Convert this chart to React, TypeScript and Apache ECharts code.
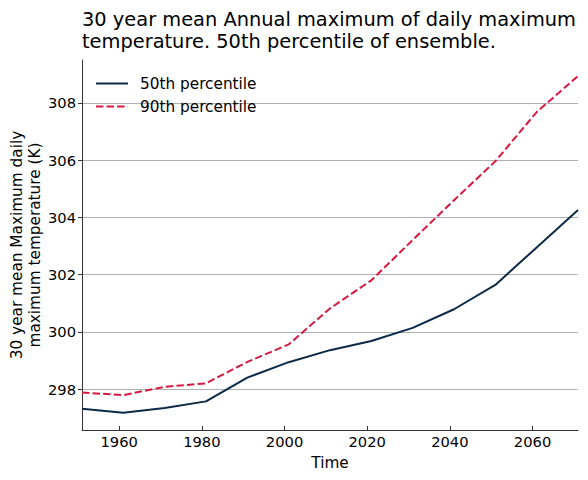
import React, { useEffect, useRef } from "react";
import * as echarts from "echarts";

const years = [1951, 1961, 1971, 1981, 1991, 2001, 2011, 2021, 2031, 2041, 2051, 2061, 2071];
const p50 = [297.31, 297.17, 297.34, 297.57, 298.4, 298.94, 299.36, 299.68, 300.14, 300.79, 301.64, 302.95, 304.26];
const p90 = [297.88, 297.79, 298.08, 298.2, 298.95, 299.56, 300.82, 301.8, 303.21, 304.6, 305.96, 307.68, 308.94];
const xTicks = [1960, 1980, 2000, 2020, 2040, 2060];
const yTicks = [298, 300, 302, 304, 306, 308];

const FONT = "DejaVu Sans";

export default function App() {
  const ref = useRef<HTMLDivElement>(null);
  useEffect(() => {
    if (!ref.current) return;
    const chart = echarts.init(ref.current, undefined, { renderer: "svg" });
    chart.setOption({
      animation: false,
      backgroundColor: "#ffffff",
      textStyle: { fontFamily: FONT },
      title: {
        text: "30 year mean Annual maximum of daily maximum\ntemperature. 50th percentile of ensemble.",
        left: 77,
        top: 3,
        textStyle: { fontFamily: FONT, fontSize: 19.4, fontWeight: "normal", color: "#000", lineHeight: 22 },
      },
      legend: {
        orient: "vertical",
        left: 90,
        top: 71,
        itemWidth: 32,
        itemHeight: 14,
        itemGap: 8,
        itemStyle: { opacity: 0, color: "transparent", borderWidth: 0 },
        textStyle: { fontFamily: FONT, fontSize: 15.3, color: "#000", padding: [0, 0, 0, 7] },
        data: ["50th percentile", "90th percentile"],
      },
      grid: { left: 82, right: 10, top: 60, bottom: 50, containLabel: false, outerBoundsMode: "none" },
      xAxis: {
        type: "value",
        min: 1951,
        max: 2071,
        name: "Time",
        nameLocation: "middle",
        nameGap: 25,
        nameMoveOverlap: false,
        nameTextStyle: { fontFamily: FONT, fontSize: 15.3, color: "#000" },
        axisLine: { show: true, lineStyle: { color: "#333", width: 1 } },
        axisTick: { show: true, inside: true, length: 4, customValues: xTicks, lineStyle: { color: "#333" } },
        axisLabel: {
          customValues: xTicks,
          formatter: (v: number) => String(v),
          fontFamily: FONT,
          fontSize: 14.7,
          color: "#000",
          margin: 4,
        },
        splitLine: { show: false },
      },
      yAxis: {
        type: "value",
        min: 296.57,
        max: 309.5,
        name: "30 year mean Maximum daily\nmaximum temperature (K)",
        nameLocation: "middle",
        nameGap: 38,
        nameMoveOverlap: false,
        nameRotate: 90,
        nameTextStyle: { fontFamily: FONT, fontSize: 15.3, color: "#000", lineHeight: 18 },
        axisLine: { show: true, lineStyle: { color: "#333", width: 1 } },
        axisTick: { show: true, inside: false, length: 4, customValues: yTicks, lineStyle: { color: "#333" } },
        axisLabel: {
          customValues: yTicks,
          formatter: (v: number) => String(v),
          fontFamily: FONT,
          fontSize: 14.7,
          color: "#000",
          margin: 6,
        },
        splitLine: { show: true, lineStyle: { color: "#b0b0b0", width: 1 } },
      },
      series: [
        {
          name: "50th percentile",
          type: "line",
          data: years.map((y, i) => [y, p50[i]]),
          showSymbol: false,
          symbol: "none",
          lineStyle: { color: "#0c2a47", width: 2 },
          itemStyle: { color: "#0c2a47" },
        },
        {
          name: "90th percentile",
          type: "line",
          data: years.map((y, i) => [y, p90[i]]),
          showSymbol: false,
          symbol: "none",
          lineStyle: { color: "#d6183f", width: 2, type: [7.4, 3.2] },
          itemStyle: { color: "#d6183f" },
        },
      ],
    });
    return () => chart.dispose();
  }, []);
  return (
    <div
      ref={ref}
      style={{ position: "fixed", left: 0, top: 0, width: 588, height: 480 }}
    />
  );
}
